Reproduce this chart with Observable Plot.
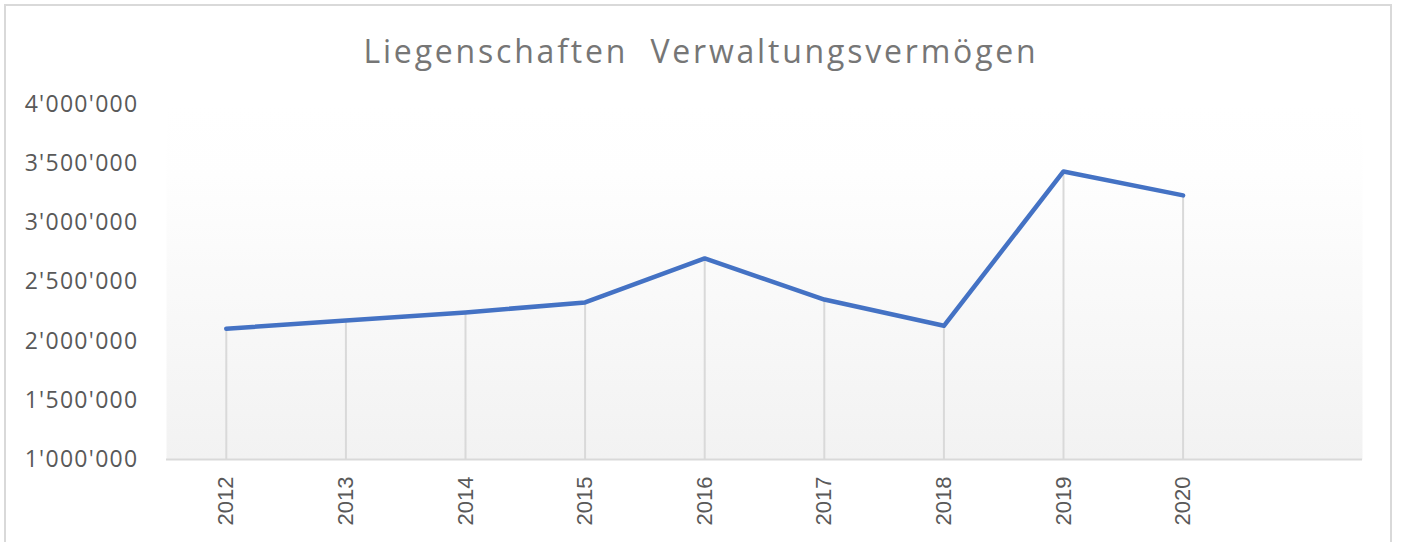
<!DOCTYPE html>
<html>
<head>
<meta charset="utf-8">
<script src="https://cdn.jsdelivr.net/npm/d3@7"></script>
<script src="https://cdn.jsdelivr.net/npm/@observablehq/plot@0.6"></script>
<style>
  html, body { margin: 0; padding: 0; background: #fff; overflow: hidden; }
  #wrap { position: relative; width: 1402px; height: 542px; }
  #frame { position: absolute; left: 4px; top: 4px; width: 1388px; height: 600px; border: 2px solid #d9d9d9; box-sizing: border-box; }
  #title { position: relative; height: 90px; box-sizing: border-box; padding-top: 35px; line-height: 32px;
           text-align: center; font-family: "Open Sans", sans-serif; font-size: 32px; letter-spacing: 2.8px; color: #767676; }
  #chart { position: relative; }
  #chart g[aria-label="y-axis tick label"] text { letter-spacing: 1.3px; }
</style>
</head>
<body>
<div id="wrap">
  <div id="frame"></div>
  <div id="title">Liegenschaften&nbsp; Verwaltungsvermögen</div>
  <div id="chart"></div>
</div>
<script>
const years = [2012, 2013, 2014, 2015, 2016, 2017, 2018, 2019, 2020];
const values = [2105000, 2175000, 2243000, 2327000, 2699000, 2352000, 2130000, 3434000, 3232000];
const yTicks = [1000000, 1500000, 2000000, 2500000, 3000000, 3500000, 4000000];
const xTickLabels = ["2012", "2013", "2014", "2015", "2016", "2017", "2018", "2019", "2020"];

const data = years.map((year, i) => ({year, value: values[i]}));
const yMin = yTicks[0], yMax = yTicks[yTicks.length - 1];
const fmt = d => d3.format(",")(d).replace(/,/g, "'");

const defs = () => {
  const ns = "http://www.w3.org/2000/svg";
  const d = document.createElementNS(ns, "defs");
  const g = document.createElementNS(ns, "linearGradient");
  g.setAttribute("id", "bg");
  g.setAttribute("x1", "0"); g.setAttribute("x2", "0");
  g.setAttribute("y1", "0"); g.setAttribute("y2", "1");
  [["0", "#ffffff"], ["0.2", "#fefefe"], ["1", "#f2f2f2"]].forEach(([o, c]) => {
    const s = document.createElementNS(ns, "stop");
    s.setAttribute("offset", o); s.setAttribute("stop-color", c);
    g.appendChild(s);
  });
  d.appendChild(g);
  return d;
};

const chart = Plot.plot({
  width: 1402,
  height: 452,
  marginLeft: 166,
  marginRight: 40,
  marginTop: 14,
  marginBottom: 83,
  style: {fontFamily: "Open Sans, sans-serif", background: "transparent", overflow: "visible"},
  x: {domain: [years[0] - 0.5, years[years.length - 1] + 1.5], axis: null},
  y: {domain: [yMin, yMax], axis: null},
  marks: [
    defs,
    Plot.frame({fill: "url(#bg)", stroke: "none"}),
    Plot.ruleX(data, {x: "year", y1: yMin, y2: "value", stroke: "#d9d9d9", strokeWidth: 2}),
    Plot.ruleY([yMin], {stroke: "#d9d9d9", strokeWidth: 2}),
    Plot.line(data, {x: "year", y: "value", stroke: "#4472C4", strokeWidth: 4.5, strokeLinejoin: "round", strokeLinecap: "round"}),
    Plot.axisY({ticks: yTicks, tickFormat: fmt, tickSize: 0, tickPadding: 28, label: null, fontSize: 23, fill: "#595959", fontFamily: "Open Sans, sans-serif"}),
    Plot.axisX({ticks: years, tickFormat: (d, i) => xTickLabels[i], tickRotate: -90, tickSize: 0, tickPadding: 17, label: null, fontSize: 22, fill: "#595959", fontFamily: "Liberation Sans, Arial, sans-serif"})
  ]
});
document.getElementById("chart").appendChild(chart);
</script>
</body>
</html>
